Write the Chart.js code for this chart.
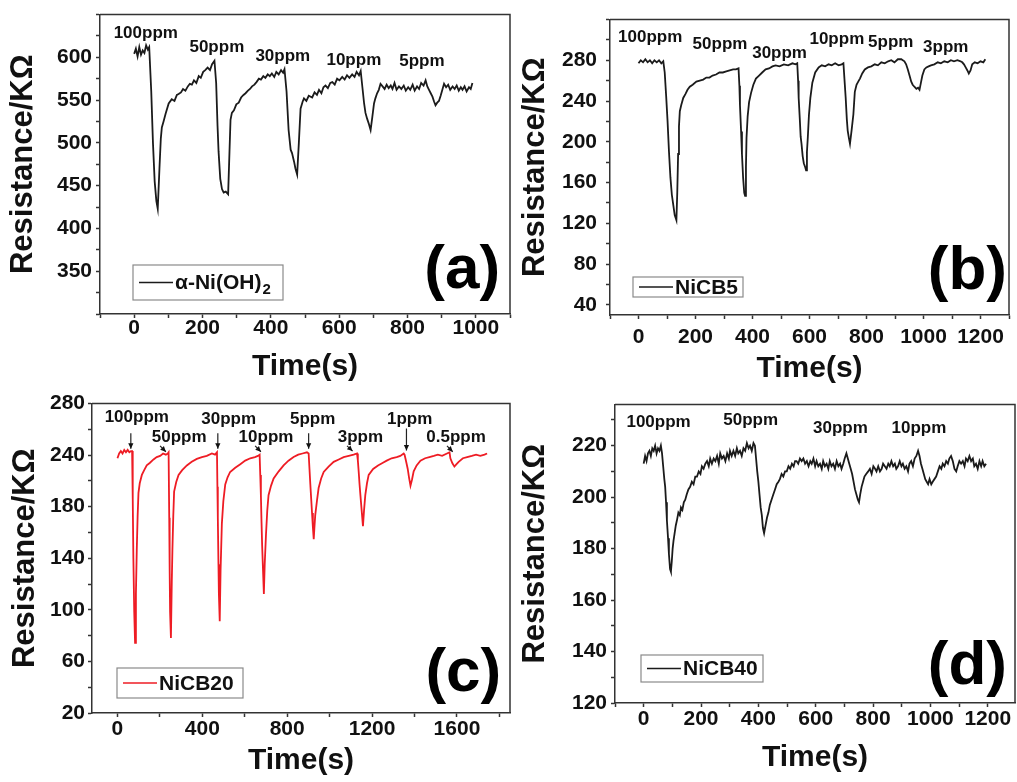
<!DOCTYPE html>
<html>
<head>
<meta charset="utf-8">
<title>Gas response curves</title>
<script src="https://cdn.jsdelivr.net/npm/chart.js@4.4.0/dist/chart.umd.min.js"></script>
<style>
  body { margin: 0; background: #fff; width: 1017px; height: 782px; overflow: hidden; position: relative; }
  canvas { position: absolute; }
</style>
</head>
<body>
<canvas id="chartA" width="512" height="390" style="left:0;top:0"></canvas>
<canvas id="chartB" width="510" height="390" style="left:507px;top:0"></canvas>
<canvas id="chartC" width="512" height="392" style="left:0;top:390px"></canvas>
<canvas id="chartD" width="510" height="392" style="left:507px;top:390px"></canvas>

<script>
// ---- (a) alpha-Ni(OH)2 ----
var timeA = [0,5,10,15,20,25,30,35,40,44, 50,55,60,65,69,
  74,78,81,86,92,101,110,118,125,130,137,143,150,157,163,169,175,182,189,195,202,208,215,222,228,235,
  240,244,247,252,257,262,268,275,
  279,282,286,292,299,306,313,320,326,333,339,345,352,358,365,371,378,384,391,397,403,410,416,423,430,436,440,
  446,452,458,462,468,472,477,
  482,487,493,497,504,511,521,528,535,541,548,554,560,567,574,580,587,594,601,609,616,623,630,638,645,651,658,663,
  668,673,677,682,687,692,
  697,702,706,711,716,721,727,733,739,745,751,756,762,768,775,782,789,795,802,808,815,821,828,834,840,847,853,
  858,863,868,873,878,882,887,892,897,902,907,
  913,919,925,932,938,944,950,956,961,967,973,980,985,990];
var resA = [604,610,601,612,603,608,605,614,609,612, 560,500,455,432,423,
  470,505,518,525,534,546,551,549,556,557,559,563,561,566,569,568,573,570,578,576,583,585,588,585,592,596,
  570,520,490,458,446,442,443,440,
  490,527,535,538,545,547,553,556,558,561,563,566,568,571,575,574,578,576,580,578,581,577,583,580,585,582,586,
  560,515,492,488,478,470,463,
  500,540,548,552,549,555,553,559,556,562,558,565,567,564,570,571,568,575,573,577,574,579,576,580,577,583,579,584,
  565,546,535,528,522,515,
  530,546,552,558,562,569,566,563,568,564,567,563,570,562,566,563,567,561,565,562,568,561,566,563,570,567,573,
  566,562,558,554,548,544,547,549,555,562,569,
  565,568,562,566,563,567,561,565,562,566,560,565,563,570];
var notesA = [['100ppm',34,628],['50ppm',242,612],['30ppm',435,601],['10ppm',643,597],['5ppm',842,595]];
var xLabelsA = [0,200,400,600,800,1000];
var yLabelsA = [350,400,450,500,550,600];

// ---- (b) NiCB5 ----
var timeB = [0,8,16,24,32,40,48,56,64,72,80,87,
  92,97,102,107,112,117,122,127,133,
  136,139,142,145,150,157,165,172,180,190,203,215,227,238,249,260,272,284,296,308,320,332,342,351,
  354,356,360,363,367,371,374,
  377,379,383,388,395,403,412,423,434,446,458,470,481,495,510,525,540,551,557,
  560,562,566,569,572,576,580,585,588,
  591,594,598,603,610,620,632,643,655,667,678,690,702,713,719,
  723,727,731,734,738,742,
  748,754,759,765,771,777,785,794,805,817,829,840,852,864,876,887,898,910,922,933,
  939,945,951,957,962,968,975,981,986,991,996,1003,1010,1018,1026,1038,1050,1061,1073,1085,1096,1107,1119,1130,
  1136,1142,1148,1154,1159,1165,1171,1180,1190,1200,1210,1217];
var resB = [277,280,278,281,278,280,277,280,278,280,277,279,
  268,245,220,190,165,148,138,128,123,
  150,188,215,230,236,243,247,251,254,256,259,260,261,263,263,265,266,268,268,269,270,271,271,272,
  255,236,210,188,165,150,147,
  175,204,225,239,248,256,262,265,268,271,272,274,275,274,276,275,277,276,277,
  260,243,222,205,198,186,179,175,172,
  190,204,226,243,258,268,273,275,274,276,275,277,275,276,277,
  260,243,222,211,204,198,
  212,227,249,256,259,262,267,271,273,274,276,275,278,277,279,280,278,281,281,279,
  276,271,265,259,256,254,252,253,251,258,265,271,273,274,275,276,278,277,279,278,280,279,280,279,
  278,276,273,270,267,270,276,278,277,279,278,281];
var notesB = [['100ppm',41,303],['50ppm',286,296],['30ppm',495,287],['10ppm',696,301],['5ppm',885,298],['3ppm',1078,293]];
var xLabelsB = [0,200,400,600,800,1000,1200];
var yLabelsB = [40,80,120,160,200,240,280];

// ---- (c) NiCB20 ----
var timeC = [0,8,16,24,32,40,48,56,64,69,
  72,75,79,83,
  87,91,95,99,105,115,126,138,152,170,185,201,215,228,237,241,
  244,246,248,252,
  256,259,263,267,277,288,305,327,350,374,398,421,445,460,469,
  471,473,476,478,482,
  486,492,499,508,519,531,555,579,602,626,648,662,670,
  673,676,679,682,686,690,
  694,700,706,712,724,736,760,783,806,830,852,872,893,901,
  905,909,913,917,921,925,
  928,932,940,948,960,972,995,1019,1043,1066,1090,1113,1129,
  1133,1137,1141,1145,1151,1157,
  1162,1168,1176,1184,1205,1228,1249,1269,1292,1316,1333,1349,
  1353,1357,1362,1368,1374,1381,
  1388,1396,1410,1428,1450,1470,1491,1510,1530,1553,1565,
  1569,1578,1588,1598,1608,1628,1648,1670,1690,1710,1730,1742];
var resC = [234,238,240,238,241,239,241,239,240,240,
  200,150,105,79,
  120,157,185,205,213,220,224,228,230,233,235,236,238,237,238,239,
  184,140,105,83,
  130,157,185,206,214,220,224,228,231,233.5,235,236,238,237,239,
  210,184,145,120,97,
  140,179,198,212,218,222.5,226,229,232,234,235,236,237,
  220,203,180,160,140,120,
  145,170,190,203,211,217,223,228,232,235,237,238,239,238,
  225,212,200,188,176,166,
  175,186,198,209,217,222.5,227,231,233,235,236,237,238,
  232,222.5,212,203,190,177,
  190,203,213,220,225,228,230,232,234,235,236,238,
  237,234,230,225,218,211,
  216,223,228,232,234,235,236,237,236,238,239,
  234,230,227,229,231,234,235,236,237,236,237,238];
var notesC = [['100ppm',91,268.5],['50ppm',291,252],['30ppm',524,267],['10ppm',700,252],
  ['5ppm',920,267],['3ppm',1145,252],['1ppm',1377,267],['0.5ppm',1596,252]];
var arrowsC = [[63,255,63,242],[201,244.4,228,239.5],[473,255,473,242],[649,244.4,676,239.5],
  [901,255,901,242],[1082,244.4,1108,240],[1362,259,1362,240.5],[1553,244.4,1580,239.5]];
var xLabelsC = [0,400,800,1200,1600];
var yLabelsC = ['20','60','100','140','180','240','280'];

// ---- (d) NiCB40 ----
var timeD = [0,5,10,15,20,25,30,35,40,45,50,55,60,64,
  68,72,75,78,81,85,88,92,95,
  98,101,104,108,112,116,121,126,130,135,140,145,150,156,162,168,174,180,186,192,198,203,209,215,221,227,232,238,244,250,
  256,262,267,273,279,285,291,297,301,307,313,319,325,330,336,342,348,354,360,366,371,377,383,388,
  392,396,400,404,408,412,416,420,
  425,430,435,440,446,452,458,464,470,475,481,487,493,499,505,511,517,523,528,533,539,545,551,557,563,
  569,575,581,586,592,598,603,609,615,621,626,632,638,644,649,655,661,667,673,679,685,690,696,701,707,
  712,717,722,727,732,737,742,747,751,
  755,760,765,770,776,783,789,795,801,807,812,818,824,830,835,841,847,853,858,864,870,876,881,887,893,
  899,904,910,916,922,927,933,939,945,951,957,962,
  967,972,977,982,987,992,997,1003,1008,1014,1020,1026,1032,1038,1043,1049,1055,1061,1066,1072,
  1078,1084,1090,1095,1101,1107,1113,1119,1124,1130,1136,1142,1148,1153,1159,1165,1171,1177,1182,1188,1194];
var resD = [213,216,214,217,218,216,219,218,220,217,219,218,220,217,
  212,207,204,198,191,184,178,172,171,
  175,180,183,186,189,191,194,193,196,195,198,199,201,203,204,206,205,208,208,210,209,212,211,213,214,212,215,213,215,214,
  216,213,217,215,216,214,217,215,218,216,218,216,219,217,218,216,219,218,221,219,220,218,221,220,
  215,210,206,201,196,193,188,186,
  189,192,194,197,199,201,203,205,206,207,209,208,210,210,212,211,213,212,214,214,213,215,214,215,213,
  214,212,214,213,215,212,214,212,213,211,214,212,213,211,214,212,213,211,214,212,213,211,213,215,217,
  215,213,211,209,206,203,201,199,198,
  201,204,206,208,209,210,211,209,212,211,210,212,210,211,213,212,211,213,212,214,212,213,211,212,214,
  212,213,211,212,210,213,214,212,215,216,218,216,
  213,211,209,207,206,205,207,205,206,207,208,210,212,211,213,212,214,213,215,216,
  214,211,210,212,214,213,214,212,215,214,216,214,215,212,213,211,214,212,214,212,213];
var notesD = [['100ppm',52,229],['50ppm',373,229.7],['30ppm',686,226.9],['10ppm',960,226.9]];
var xLabelsD = [0,200,400,600,800,1000,1200];
var yLabelsD = [120,140,160,180,200,220];

var FONT = 'Liberation Sans';

function steps(from, to, step) {
  var out = [];
  for (var v = from; v <= to + 1e-9; v += step) out.push(v);
  return out;
}

// frame on top/right, text notes, arrows, panel tag and the legend box
var decor = {
  id: 'decor',
  afterDraw: function (chart, args, o) {
    var ctx = chart.ctx, a = chart.chartArea;
    var sx = chart.scales.x, sy = chart.scales.y;
    ctx.save();
    ctx.strokeStyle = '#333';
    ctx.lineWidth = 1.5;
    ctx.beginPath();
    ctx.moveTo(a.left, a.top); ctx.lineTo(a.right, a.top); ctx.lineTo(a.right, a.bottom);
    ctx.stroke();

    ctx.fillStyle = '#111';
    ctx.textAlign = 'center';
    ctx.textBaseline = 'middle';
    ctx.font = 'bold 17px "' + FONT + '"';
    o.notes.forEach(function (n) {
      ctx.fillText(n[0], sx.getPixelForValue(n[1]), sy.getPixelForValue(n[2]));
    });

    ctx.strokeStyle = '#222';
    ctx.lineWidth = 1.2;
    (o.arrows || []).forEach(function (r) {
      var x1 = sx.getPixelForValue(r[0]), y1 = sy.getPixelForValue(r[1]);
      var x2 = sx.getPixelForValue(r[2]), y2 = sy.getPixelForValue(r[3]);
      var ang = Math.atan2(y2 - y1, x2 - x1);
      ctx.beginPath(); ctx.moveTo(x1, y1); ctx.lineTo(x2, y2); ctx.stroke();
      ctx.beginPath();
      ctx.moveTo(x2, y2);
      ctx.lineTo(x2 - 6 * Math.cos(ang - 0.45), y2 - 6 * Math.sin(ang - 0.45));
      ctx.lineTo(x2 - 6 * Math.cos(ang + 0.45), y2 - 6 * Math.sin(ang + 0.45));
      ctx.closePath(); ctx.fill();
    });

    ctx.font = 'bold 62px "' + FONT + '"';
    ctx.fillStyle = '#000';
    ctx.fillText(o.tag[0], sx.getPixelForValue(o.tag[1]), sy.getPixelForValue(o.tag[2]));

    var L = o.legend;
    var bx = a.left + L.dx, by = a.bottom - L.dy;
    ctx.strokeStyle = '#8a8a8a';
    ctx.lineWidth = 1.2;
    ctx.strokeRect(bx, by, L.w, L.h);
    var ds = chart.data.datasets[0];
    ctx.strokeStyle = ds.borderColor;
    ctx.lineWidth = 1.6;
    ctx.beginPath();
    ctx.moveTo(bx + 6, by + L.h / 2); ctx.lineTo(bx + 40, by + L.h / 2);
    ctx.stroke();
    ctx.fillStyle = '#111';
    ctx.textAlign = 'left';
    ctx.font = 'bold 21px "' + FONT + '"';
    ctx.fillText(ds.label, bx + 42, by + L.h / 2 + 1);
    if (L.sub) {
      var w = ctx.measureText(ds.label).width;
      ctx.font = 'bold 15px "' + FONT + '"';
      ctx.fillText(L.sub, bx + 43 + w, by + L.h / 2 + 7);
    }
    ctx.restore();
  }
};

function panel(id, p) {
  var pts = p.time.map(function (t, i) { return { x: t, y: p.res[i] }; });
  new Chart(document.getElementById(id), {
    type: 'scatter',
    data: { datasets: [{ label: p.label, data: pts, showLine: true, borderColor: p.color,
      borderWidth: 1.8, pointRadius: 0, tension: 0 }] },
    options: {
      responsive: false, animation: false, devicePixelRatio: 1,
      layout: { padding: { top: p.padTop, right: p.padRight, left: 0, bottom: 0 } },
      plugins: { legend: { display: false }, tooltip: { enabled: false },
        decor: { notes: p.notes, arrows: p.arrows, tag: p.tag, legend: p.legend } },
      scales: {
        x: {
          type: 'linear', min: p.xMin, max: p.xMax,
          afterBuildTicks: function (s) { s.ticks = p.xTicks.map(function (v) { return { value: v }; }); },
          afterFit: function (s) { s.height = p.xH; },
          grid: { drawOnChartArea: false, tickLength: 4, tickWidth: 1.5, tickColor: '#333' },
          border: { color: '#333', width: 1.5 },
          ticks: { autoSkip: false, maxRotation: 0, padding: p.xPad, color: '#111',
            font: { family: FONT, size: 21, weight: 'bold', lineHeight: 1 },
            callback: function (v, i) { return p.xText[i]; } },
          title: { display: true, text: 'Time(s)', color: '#111', padding: { top: 0, bottom: p.xTitlePad },
            font: { family: FONT, size: 30, weight: 'bold', lineHeight: 1 } }
        },
        y: {
          type: 'linear', min: p.yMin, max: p.yMax,
          afterBuildTicks: function (s) { s.ticks = p.yTicks.map(function (v) { return { value: v }; }); },
          afterFit: function (s) { s.width = p.yW; },
          grid: { drawOnChartArea: false, tickLength: 4, tickWidth: 1.5, tickColor: '#333' },
          border: { color: '#333', width: 1.5 },
          ticks: { autoSkip: false, padding: p.yPad, color: '#111',
            font: { family: FONT, size: 21, weight: 'bold', lineHeight: 1 },
            callback: function (v, i) { return p.yText[i]; } },
          title: { display: true, text: 'Resistance/KΩ', color: '#111', padding: { top: p.yTitlePad, bottom: 0 },
            font: { family: FONT, size: 31, weight: 'bold', lineHeight: 1 } }
        }
      }
    },
    plugins: [decor]
  });
}

function labelled(ticks, labels) {
  return ticks.map(function (v) { return labels.indexOf(v) >= 0 ? String(v) : ''; });
}

var xtA = steps(-100, 1100, 100), ytA = steps(300, 650, 25);
panel('chartA', {
  time: timeA, res: resA, label: 'α-Ni(OH)', color: '#1b1b1b', notes: notesA,
  tag: ['(a)', 960, 350], legend: { dx: 33, dy: 49, w: 150, h: 35, sub: '2' },
  padTop: 10, padRight: 2, yW: 100, xH: 76,
  xMin: -100, xMax: 1100, xTicks: xtA, xText: labelled(xtA, xLabelsA), xPad: 0, xTitlePad: 8,
  yMin: 300, yMax: 650, yTicks: ytA, yText: labelled(ytA, yLabelsA), yPad: 4, yTitlePad: 8
});

var xtB = steps(-100, 1300, 100), ytB = steps(40, 320, 20);
panel('chartB', {
  time: timeB, res: resB, label: 'NiCB5', color: '#1b1b1b', notes: notesB,
  tag: ['(b)', 1154, 72], legend: { dx: 23, dy: 38, w: 110, h: 20 },
  padTop: 13, padRight: 4, yW: 103, xH: 75,
  xMin: -100, xMax: 1300, xTicks: xtB, xText: labelled(xtB, xLabelsB), xPad: 8, xTitlePad: 6,
  yMin: 30, yMax: 320, yTicks: ytB, yText: labelled(ytB, yLabelsB), yPad: 9, yTitlePad: 13
});

var xtC = steps(0, 1800, 200);
var ytC = [], ytTextC = [];
for (var i = 0; i <= 12; i++) {
  ytC.push(20 + i * 260 / 12);
  ytTextC.push(i % 2 === 0 ? yLabelsC[i / 2] : '');
}
panel('chartC', {
  time: timeC, res: resC, label: 'NiCB20', color: '#ee1c24', notes: notesC, arrows: arrowsC,
  tag: ['(c)', 1630, 53], legend: { dx: 25, dy: 45, w: 126, h: 30 },
  padTop: 7, padRight: 2, yW: 92, xH: 69,
  xMin: -120, xMax: 1850, xTicks: xtC, xText: labelled(xtC, xLabelsC), xPad: 2, xTitlePad: 6,
  yMin: 20, yMax: 280, yTicks: ytC, yText: ytTextC, yPad: 3, yTitlePad: 10
});

var xtD = steps(-100, 1200, 100), ytD = steps(120, 230, 10);
panel('chartD', {
  time: timeD, res: resD, label: 'NiCB40', color: '#1b1b1b', notes: notesD,
  tag: ['(d)', 1129, 134], legend: { dx: 26, dy: 48, w: 122, h: 27 },
  padTop: 13, padRight: 2, yW: 108, xH: 79,
  xMin: -100, xMax: 1295, xTicks: xtD, xText: labelled(xtD, xLabelsD), xPad: 2, xTitlePad: 9,
  yMin: 120, yMax: 236, yTicks: ytD, yText: labelled(ytD, yLabelsD), yPad: 4, yTitlePad: 13
});
</script>
</body>
</html>
